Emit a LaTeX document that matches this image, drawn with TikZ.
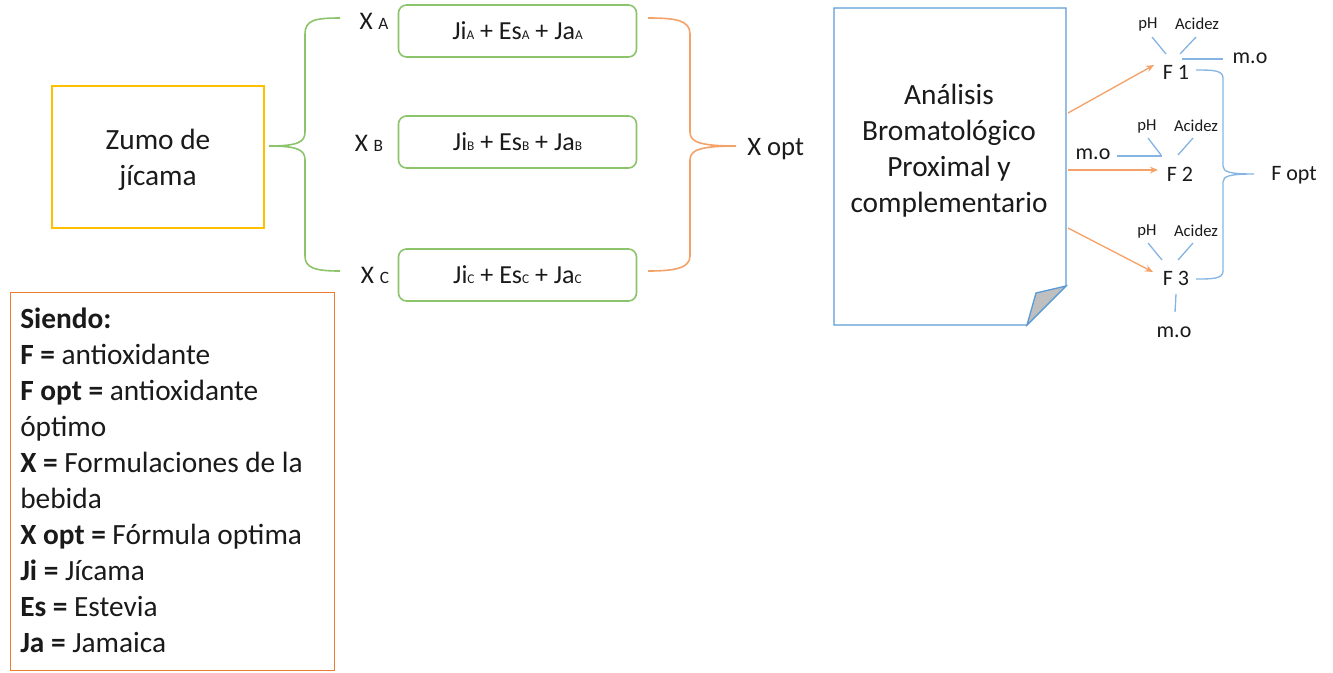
\documentclass[tikz,border=0pt]{standalone}
\usepackage{fontspec}
\setmainfont{Carlito}
\usetikzlibrary{arrows.meta}
\definecolor{txt}{HTML}{1A1A1A}
\definecolor{ylw}{HTML}{FFC000}
\definecolor{grn}{HTML}{8CC46C}
\definecolor{org}{HTML}{ED7D31}
\definecolor{orgl}{HTML}{F4A268}
\definecolor{blu}{HTML}{5B9BD5}
\definecolor{blul}{HTML}{86B5E3}
\definecolor{fold}{HTML}{BFBFBF}
\newcommand{\mysub}[1]{{\fontsize{10}{10}\selectfont #1}}
\newcommand{\myxsub}[1]{{\fontsize{13}{13}\selectfont #1}}
\begin{document}
\begin{tikzpicture}[x=0.75pt,y=-0.75pt,
  every node/.style={text=txt,inner sep=0pt,font=\fontsize{22}{27}\selectfont},
  big/.style={align=center,font=\fontsize{22}{27}\selectfont},
  formbox/.style={draw=grn,line width=1.2pt,rounded corners=6pt,minimum width=178.5pt,minimum height=39pt,font=\fontsize{19.5}{22}\selectfont},
  xlab/.style={font=\fontsize{19}{22}\selectfont,anchor=base},
  small/.style={font=\fontsize{12.5}{14}\selectfont},
  mid/.style={font=\fontsize{16.5}{19}\selectfont},
  gbrace/.style={draw=grn,line width=1.2pt},
  obrace/.style={draw=orgl,line width=1.2pt},
  bline/.style={draw=blul,line width=1pt},
  oarrow/.style={draw=orgl,line width=1pt,-{Stealth[length=6pt,width=5pt]}}]
\useasboundingbox (0,0) rectangle (1333,672);

% yellow box
\node[draw=ylw,line width=1.2pt,minimum width=159pt,minimum height=106.5pt] (zumo) at (158,157) {};
\node[big] (zumotext) at (158,160) {Zumo de\\jícama};

% green brace
\coordinate (gtip) at (269,146);
\coordinate (gtop) at (340,18);
\coordinate (gbot) at (340,271);
\draw[gbrace] (gtop) .. controls (315,18) and (305,20) .. (305,34) -- (305,132)
  .. controls (305,142) and (298,146) .. (gtip)
  .. controls (298,146) and (305,150) .. (305,160) -- (305,256)
  .. controls (305,268) and (315,271) .. (gbot);

% formula labels
\node[xlab] (xa) at (374,29) {X \myxsub{A}};
\node[xlab] (xb) at (369,151) {X \myxsub{B}};
\node[xlab] (xc) at (375,283) {X \myxsub{C}};

\node[formbox] (fa) at (517.5,31) {Ji\mysub{A} + Es\mysub{A} + Ja\mysub{A}};
\node[formbox] (fb) at (517.5,142) {Ji\mysub{B} + Es\mysub{B} + Ja\mysub{B}};
\node[formbox] (fc) at (517.5,275) {Ji\mysub{C} + Es\mysub{C} + Ja\mysub{C}};

% orange brace
\coordinate (otip) at (736,146);
\coordinate (otop) at (648,18);
\coordinate (obot) at (648,271);
\draw[obrace] (otop) .. controls (675,18) and (690,20) .. (690,34) -- (690,132)
  .. controls (690,142) and (700,146) .. (otip)
  .. controls (700,146) and (690,150) .. (690,160) -- (690,256)
  .. controls (690,268) and (675,271) .. (obot);
\node[font=\fontsize{20}{24}\selectfont,anchor=west] (xopt) at (747,149) {X opt};

% document shape
\draw[draw=blu,line width=1pt,fill=white] (834,8) -- (1066,8) -- (1066,286) -- (1027,325) -- (834,325) -- cycle;
\draw[draw=blu,line width=1pt,fill=fold] (1066,286) -- (1036,293) -- (1027,325) -- cycle;
\node[big] (doc) at (949,151) {Análisis\\Bromatológico\\Proximal y\\complementario};

% F nodes
\node[mid] (f1) at (1176,72) {F 1};
\node[mid] (f2) at (1180,174) {F 2};
\node[mid] (f3) at (1176,278) {F 3};

% orange arrows
\coordinate (d1) at (1068,113);
\coordinate (d2) at (1068,170);
\coordinate (d3) at (1068,228);
\coordinate (e1) at (1154,65);
\coordinate (e2) at (1158,170);
\coordinate (e3) at (1153,272);
\draw[oarrow] (d1) -- (e1);
\draw[oarrow] (d2) -- (e2);
\draw[oarrow] (d3) -- (e3);

% F1 parameters
\node[small] (ph1) at (1148,24) {pH};
\node[small] (ac1) at (1197,24) {Acidez};
\node[mid] (mo1) at (1250,58) {m.o};
\coordinate (p1a) at (1152,37); \coordinate (p1b) at (1166,54);
\coordinate (a1a) at (1196,37); \coordinate (a1b) at (1180,54);
\coordinate (m1a) at (1182,59); \coordinate (m1b) at (1223,59);
\draw[bline] (p1a) -- (p1b);
\draw[bline] (a1a) -- (a1b);
\draw[bline] (m1a) -- (m1b);

% F2 parameters
\node[small] (ph2) at (1147,126) {pH};
\node[small] (ac2) at (1196,126) {Acidez};
\node[mid] (mo2) at (1093,154) {m.o};
\coordinate (p2a) at (1148,138); \coordinate (p2b) at (1161,155);
\coordinate (a2a) at (1193,138); \coordinate (a2b) at (1178,155);
\coordinate (m2a) at (1117,156); \coordinate (m2b) at (1162,156);
\draw[bline] (p2a) -- (p2b);
\draw[bline] (a2a) -- (a2b);
\draw[bline] (m2a) -- (m2b);

% F3 parameters
\node[small] (ph3) at (1147,231) {pH};
\node[small] (ac3) at (1196,231) {Acidez};
\node[mid] (mo3) at (1174,332) {m.o};
\coordinate (p3a) at (1148,243); \coordinate (p3b) at (1162,260);
\coordinate (a3a) at (1193,243); \coordinate (a3b) at (1178,260);
\coordinate (m3a) at (1176,294); \coordinate (m3b) at (1175,312);
\draw[bline] (p3a) -- (p3b);
\draw[bline] (a3a) -- (a3b);
\draw[bline] (m3a) -- (m3b);

% blue brace
\coordinate (btop) at (1196,70);
\coordinate (btip) at (1254,174);
\coordinate (bbot) at (1196,279);
\draw[bline] (btop) .. controls (1212,70) and (1223,70) .. (1223,78) -- (1223,166)
  .. controls (1223,172) and (1230,174) .. (btip)
  .. controls (1230,174) and (1223,176) .. (1223,182) -- (1223,271)
  .. controls (1223,279) and (1212,279) .. (bbot);
\node[mid,anchor=west] (fopt) at (1271,175) {F opt};

% legend
\node[draw=org,line width=1pt,minimum width=243pt,minimum height=283.5pt,anchor=north west] (leg) at (10,292) {};
\node[align=left,anchor=north west,font=\fontsize{22}{27}\selectfont] (legtext) at (20,308) {%
\textbf{Siendo:}\\
\textbf{F =} antioxidante\\
\textbf{F opt =} antioxidante\\
óptimo\\
\textbf{X =} Formulaciones de la\\
bebida\\
\textbf{X opt =} Fórmula optima\\
\textbf{Ji =} Jícama\\
\textbf{Es =} Estevia\\
\textbf{Ja =} Jamaica};
\end{tikzpicture}
\end{document}
